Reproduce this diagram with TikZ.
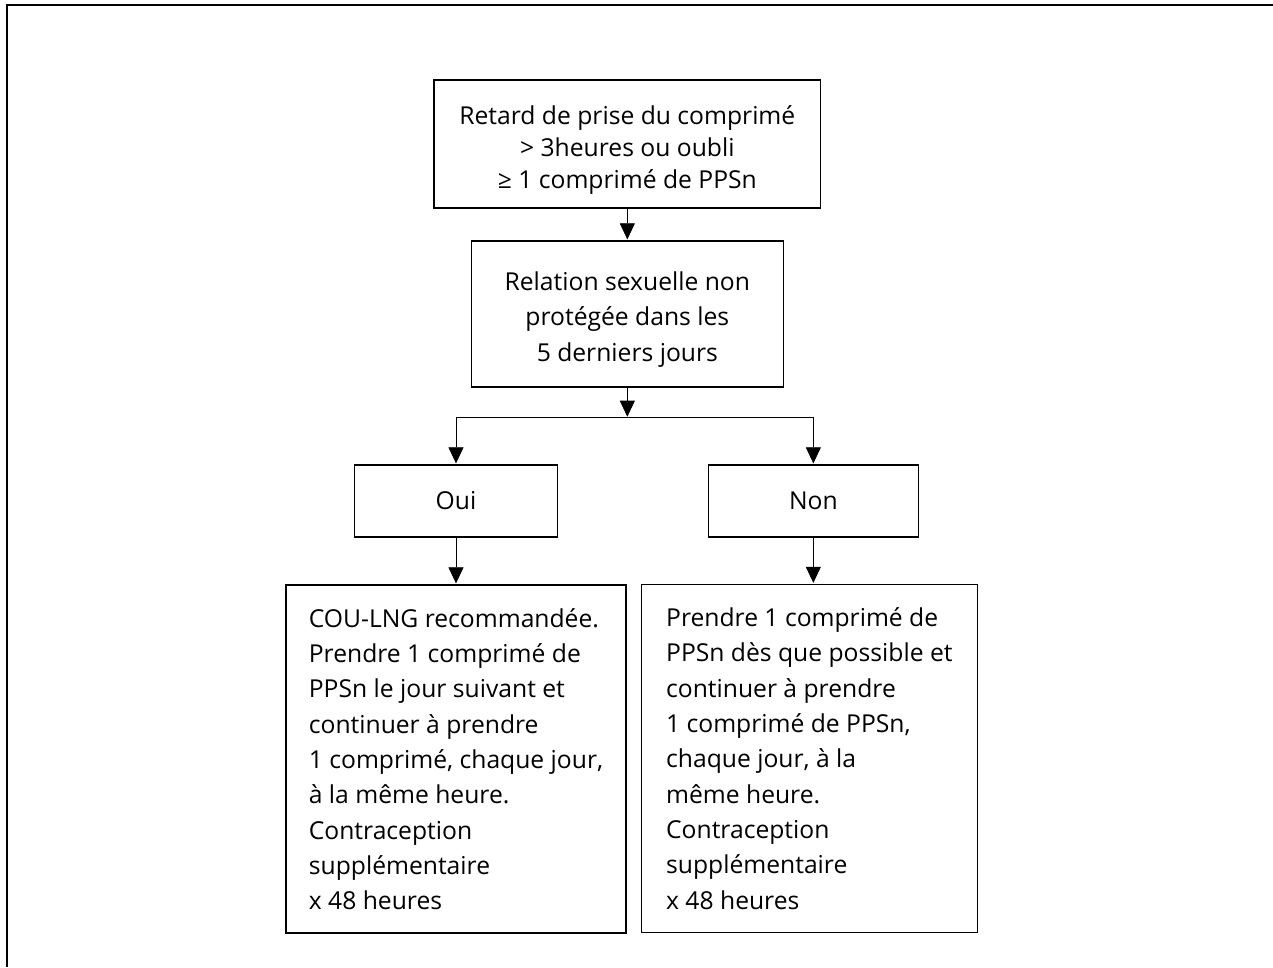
\documentclass[tikz,border=0pt]{standalone}
\usepackage{fontspec}
\setmainfont{Open Sans}
\usetikzlibrary{arrows.meta}
\usetikzlibrary{shapes}

\begin{document}
\begin{tikzpicture}
\tikzset{
   >={Triangle[width=12pt,length=13pt]}, line width = 1pt,
   box/.style = {rectangle, draw, line width = 1pt, align = center, font = \fontsize{18.5}{26.5}\selectfont},
   choice/.style = {box, minimum height = 54pt},
   advice/.style = {box, align = left, minimum width = 255pt, minimum height = 261pt}
}
  \useasboundingbox (0,0) rectangle (954.75pt,-725.25pt);
  \draw [line width = 1.5pt] (954.75pt,-3.75pt) -- (4.9pt,-3.75pt) -- (4.9pt,-725.25pt);

  \node [box, minimum width = 290pt, minimum height = 96pt, font = \fontsize{18.5}{24}\selectfont] (retard) at (470.5pt,-108pt)
        {\rule{0pt}{23.5pt}Retard de prise du comprimé\\> 3heures ou oubli\\≥ 1 comprimé de PPSn};
  \node [box, minimum width = 234pt, minimum height = 109.5pt] (relation) [below of = retard, node distance = 127.5pt]
        {\rule{0pt}{22pt}Relation sexuelle non\\protégée dans les\\5 derniers jours}
        edge [<-] (retard);

  \coordinate (split) at ([yshift = -22.5pt]relation.south);
  \draw [->] (relation) -- (split);

  \node [choice, minimum width = 152pt] (oui) [below of = relation, node distance = 140.25pt, xshift = -128.5pt] {Oui};
  \node [choice, minimum width = 157.5pt] (non) [below of = relation, node distance = 140.25pt, xshift = 139.5pt] {Non};
  \draw [->] (split) -| (oui);
  \draw [->] (split) -| (non);

  \node [advice] (conseil_oui) [below of = oui, node distance = 193.5pt]
        {COU-LNG recommandée.\\Prendre 1 comprimé de\\PPSn le jour suivant et\\continuer à prendre\\1 comprimé, chaque jour,\\à la même heure.\\Contraception\\supplémentaire\\x 48 heures}
        edge [<-] (oui);
  \node [advice, minimum width = 252pt] (conseil_non) [below of = non, node distance = 193.1pt, xshift = -3pt]
        {Prendre 1 comprimé de\\PPSn dès que possible et\\continuer à prendre\\1 comprimé de PPSn,\\chaque jour, à la\\même heure.\\Contraception\\supplémentaire\\x 48 heures};
  \draw [->] (non.south) -- (non.south |- conseil_non.north);

\end{tikzpicture}
\end{document}
